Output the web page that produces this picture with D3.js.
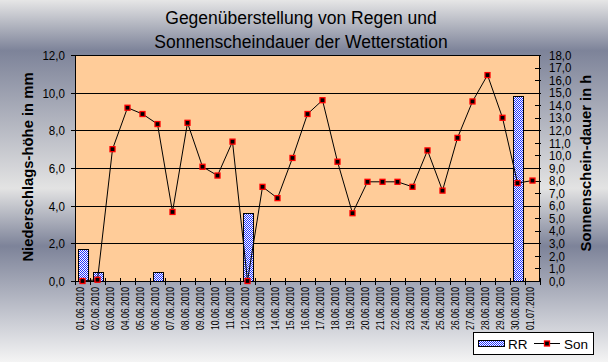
<!DOCTYPE html>
<html lang="de">
<head>
<meta charset="UTF-8">
<title>Regen und Sonnenscheindauer</title>
<style>
  body { margin: 0; padding: 0; overflow: hidden; }
  svg { display: block; }
  .tick-label { font-family: "Liberation Sans", Arial, sans-serif; fill: #000; }
</style>
</head>
<body>
<div id="chart"></div>
<script src="https://d3js.org/d3.v7.min.js"></script>
<script>
// Tage der Wetterstation
const days = [
  "01.06.2010", "02.06.2010", "03.06.2010", "04.06.2010", "05.06.2010",
  "06.06.2010", "07.06.2010", "08.06.2010", "09.06.2010", "10.06.2010",
  "11.06.2010", "12.06.2010", "13.06.2010", "14.06.2010", "15.06.2010",
  "16.06.2010", "17.06.2010", "18.06.2010", "19.06.2010", "20.06.2010",
  "21.06.2010", "22.06.2010", "23.06.2010", "24.06.2010", "25.06.2010",
  "26.06.2010", "27.06.2010", "28.06.2010", "29.06.2010", "30.06.2010",
  "01.07.2010"
];

// Niederschlag in mm (RR)
const rr = [
  1.7, 0.5, 0, 0, 0, 0.5, 0, 0, 0, 0,
  0, 3.6, 0, 0, 0, 0, 0, 0, 0, 0,
  0, 0, 0, 0, 0, 0, 0, 0, 0, 9.8,
  0
];

// Sonnenscheindauer in h (Son)
const son = [
  0.0, 0.1, 10.5, 13.8, 13.3, 12.5, 5.5, 12.6, 9.1, 8.4,
  11.1, 0.0, 7.5, 6.6, 9.8, 13.3, 14.4, 9.5, 5.4, 7.9,
  7.9, 7.9, 7.5, 10.4, 7.2, 11.4, 14.3, 16.4, 13.0, 7.8,
  8.0
];

const leftTicks = [0, 2, 4, 6, 8, 10, 12];
const rightTicks = d3.range(0, 19);

const W = 608, H = 362;
const plot = { left: 75, right: 540, top: 55, bottom: 281 };
const narrow = 0.86; // schmale Schrift nachbilden

const svg = d3.select("#chart").append("svg")
    .attr("width", W)
    .attr("height", H);

const defs = svg.append("defs");

// grauer Metall-Verlauf im Hintergrund
const grad = defs.append("linearGradient")
    .attr("id", "bg")
    .attr("x1", 0).attr("y1", 0).attr("x2", 0).attr("y2", 1);
[
  [0, "#e6e6e6"], [0.14, "#7d8399"], [0.52, "#e3e3e3"],
  [0.68, "#7d8399"], [1, "#f4f4f4"]
].forEach(s => grad.append("stop").attr("offset", s[0]).attr("stop-color", s[1]));

// Karomuster der Balken
const pat = defs.append("pattern")
    .attr("id", "checker")
    .attr("width", 2).attr("height", 2)
    .attr("patternUnits", "userSpaceOnUse");
pat.append("rect").attr("width", 2).attr("height", 2).attr("fill", "#ffffff");
pat.append("rect").attr("width", 1).attr("height", 1).attr("fill", "#2233ff");
pat.append("rect").attr("x", 1).attr("y", 1).attr("width", 1).attr("height", 1).attr("fill", "#2233ff");

svg.append("rect")
    .attr("width", W).attr("height", H)
    .attr("fill", "url(#bg)");

const x = d3.scaleBand()
    .domain(days)
    .range([plot.left, plot.right])
    .paddingInner(0).paddingOuter(0);

const yL = d3.scaleLinear().domain([0, 12]).range([plot.bottom, plot.top]);
const yR = d3.scaleLinear().domain([0, 18]).range([plot.bottom, plot.top]);

const de = d3.formatLocale({ decimal: ",", thousands: ".", grouping: [3], currency: ["", " €"] });
const fmt = de.format(".1f");

// Zeichenfläche
svg.append("rect")
    .attr("x", plot.left).attr("y", plot.top)
    .attr("width", plot.right - plot.left)
    .attr("height", plot.bottom - plot.top)
    .attr("fill", "#ffcc99");

// Gitterlinien
svg.append("g")
  .selectAll("line")
  .data(leftTicks.filter(d => d > 0))
  .join("line")
    .attr("x1", plot.left).attr("x2", plot.right)
    .attr("y1", d => Math.round(yL(d)) + 0.5)
    .attr("y2", d => Math.round(yL(d)) + 0.5)
    .attr("stroke", "#000").attr("stroke-width", 1);

// Balken RR
const bw = x.bandwidth() * 0.66;
svg.append("g")
  .selectAll("rect")
  .data(days.map((d, i) => ({ day: d, v: rr[i] })).filter(d => d.v > 0))
  .join("rect")
    .attr("x", d => Math.round(x(d.day) + (x.bandwidth() - bw) / 2) + 0.5)
    .attr("y", d => Math.round(yL(d.v)) + 0.5)
    .attr("width", Math.round(bw))
    .attr("height", d => Math.round(yL(0)) - Math.round(yL(d.v)))
    .attr("fill", "url(#checker)")
    .attr("stroke", "#000").attr("stroke-width", 1);

// Achsen
const gx = svg.append("g");
gx.append("line")
    .attr("x1", plot.left).attr("x2", plot.right)
    .attr("y1", plot.bottom + 0.5).attr("y2", plot.bottom + 0.5)
    .attr("stroke", "#000");
gx.selectAll("line.t")
  .data(days.concat(["end"]))
  .join("line").attr("class", "t")
    .attr("x1", (d, i) => Math.round(plot.left + i * x.step()) + 0.5)
    .attr("x2", (d, i) => Math.round(plot.left + i * x.step()) + 0.5)
    .attr("y1", plot.bottom - 3).attr("y2", plot.bottom + 4)
    .attr("stroke", "#000");
gx.selectAll("text")
  .data(days)
  .join("text")
    .attr("class", "tick-label")
    .attr("transform", d => `translate(${x(d) + x.bandwidth() / 2 + 1.5},${plot.bottom + 6}) rotate(-90) scale(${narrow},1)`)
    .attr("text-anchor", "end")
    .attr("font-size", 10)
    .text(d => d);

const gl = svg.append("g");
gl.append("line")
    .attr("x1", plot.left + 0.5).attr("x2", plot.left + 0.5)
    .attr("y1", plot.top).attr("y2", plot.bottom + 1)
    .attr("stroke", "#000");
gl.selectAll("line.t")
  .data(leftTicks)
  .join("line").attr("class", "t")
    .attr("x1", plot.left - 4).attr("x2", plot.left + 5)
    .attr("y1", d => Math.round(yL(d)) + 0.5)
    .attr("y2", d => Math.round(yL(d)) + 0.5)
    .attr("stroke", "#000");
gl.selectAll("text")
  .data(leftTicks)
  .join("text")
    .attr("class", "tick-label")
    .attr("transform", d => `translate(65,${yL(d)}) scale(${narrow},1)`)
    .attr("dy", "0.36em")
    .attr("text-anchor", "end")
    .attr("font-size", 13.5)
    .text(d => fmt(d));

const gr = svg.append("g");
gr.append("line")
    .attr("x1", plot.right - 0.5).attr("x2", plot.right - 0.5)
    .attr("y1", plot.top).attr("y2", plot.bottom + 1)
    .attr("stroke", "#000");
gr.selectAll("line.t")
  .data(rightTicks)
  .join("line").attr("class", "t")
    .attr("x1", plot.right - 5).attr("x2", plot.right + 1)
    .attr("y1", d => Math.round(yR(d)) + 0.5)
    .attr("y2", d => Math.round(yR(d)) + 0.5)
    .attr("stroke", "#000");
gr.selectAll("text")
  .data(rightTicks)
  .join("text")
    .attr("class", "tick-label")
    .attr("transform", d => `translate(549,${yR(d)}) scale(${narrow + 0.04},1)`)
    .attr("dy", "0.36em")
    .attr("font-size", 12.8)
    .text(d => fmt(d));

// Linie Son
const line = d3.line()
    .x((d, i) => x(days[i]) + x.bandwidth() / 2)
    .y(d => yR(d));

svg.append("path")
    .datum(son)
    .attr("d", line)
    .attr("fill", "none")
    .attr("stroke", "#000")
    .attr("stroke-width", 1);

svg.append("g")
  .selectAll("rect")
  .data(son)
  .join("rect")
    .attr("x", (d, i) => x(days[i]) + x.bandwidth() / 2 - 2.5)
    .attr("y", d => yR(d) - 2.5)
    .attr("width", 5).attr("height", 5)
    .attr("fill", "#000")
    .attr("stroke", "#ff0000").attr("stroke-width", 1.3);

// Titel
const title = svg.append("text")
    .attr("x", 301)
    .attr("text-anchor", "middle")
    .attr("font-family", "'Liberation Sans', Arial, sans-serif")
    .attr("font-size", 17.5)
    .attr("fill", "#000");
title.append("tspan").attr("x", 301).attr("y", 24).text("Gegenüberstellung von Regen und");
title.append("tspan").attr("x", 301).attr("y", 47.5).text("Sonnenscheindauer der Wetterstation");

// Achsentitel
svg.append("text")
    .attr("transform", "translate(28,167) rotate(-90)")
    .attr("text-anchor", "middle")
    .attr("dominant-baseline", "central")
    .attr("font-family", "'Liberation Sans', Arial, sans-serif")
    .attr("font-weight", "bold")
    .attr("font-size", 14.8)
    .text("Niederschlags-höhe in mm");

svg.append("text")
    .attr("transform", "translate(586,163) rotate(-90)")
    .attr("text-anchor", "middle")
    .attr("dominant-baseline", "central")
    .attr("font-family", "'Liberation Sans', Arial, sans-serif")
    .attr("font-weight", "bold")
    .attr("font-size", 14.8)
    .text("Sonnenschein-dauer in h");

// Legende
const lg = svg.append("g")
    .attr("font-family", "'Liberation Sans', Arial, sans-serif")
    .attr("font-size", 13.5);
lg.append("rect")
    .attr("x", 473.5).attr("y", 332.5)
    .attr("width", 120).attr("height", 22)
    .attr("fill", "#fff").attr("stroke", "#000");
lg.append("rect")
    .attr("x", 478.5).attr("y", 340.5)
    .attr("width", 26).attr("height", 6)
    .attr("fill", "url(#checker)").attr("stroke", "#000");
lg.append("text").attr("x", 508).attr("y", 348.5).text("RR");
lg.append("line")
    .attr("x1", 534).attr("x2", 560)
    .attr("y1", 343.5).attr("y2", 343.5)
    .attr("stroke", "#000");
lg.append("rect")
    .attr("x", 544.5).attr("y", 341)
    .attr("width", 5).attr("height", 5)
    .attr("fill", "#000")
    .attr("stroke", "#ff0000").attr("stroke-width", 1.3);
lg.append("text").attr("x", 564).attr("y", 348.5).text("Son");
</script>
</body>
</html>
